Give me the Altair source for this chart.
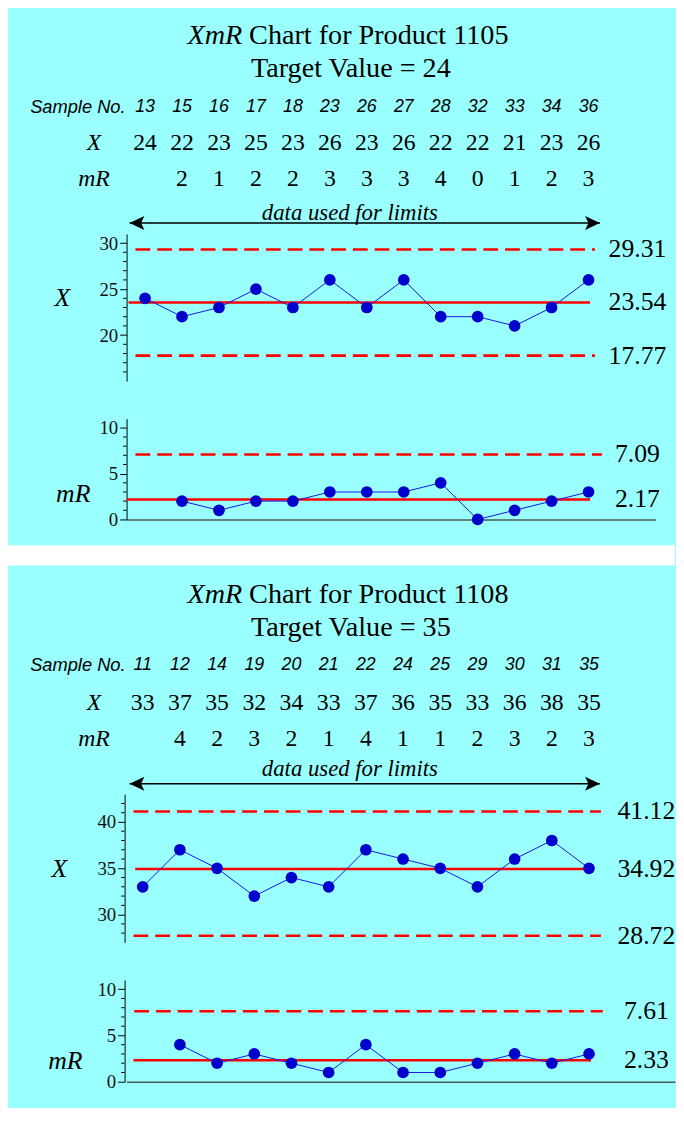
import altair as alt
import pandas as pd

# ---------------- data ----------------
p1_product = "1105"
p1_target = 24
p1_samples = [13, 15, 16, 17, 18, 23, 26, 27, 28, 32, 33, 34, 36]
p1_x = [24, 22, 23, 25, 23, 26, 23, 26, 22, 22, 21, 23, 26]
p1_mr = [None, 2, 1, 2, 2, 3, 3, 3, 4, 0, 1, 2, 3]
p1_x_limits = [29.31, 23.54, 17.77]          # UCL, CL, LCL (labels)
p1_x_drawn = [29.31, 23.54, 17.77]           # where the lines are drawn
p1_mr_limits = [7.09, 2.17]                  # URL, CL

p2_product = "1108"
p2_target = 35
p2_samples = [11, 12, 14, 19, 20, 21, 22, 24, 25, 29, 30, 31, 35]
p2_x = [33, 37, 35, 32, 34, 33, 37, 36, 35, 33, 36, 38, 35]
p2_mr = [None, 4, 2, 3, 2, 1, 4, 1, 1, 2, 3, 2, 3]
p2_x_limits = [41.12, 34.92, 28.72]
p2_x_drawn = [41.12, 34.92, 27.72]           # lower line sits lower in the source
p2_mr_limits = [7.61, 2.33]

# ---------------- style ----------------
BG = "#99ffff"
RED = "#ff0000"
BLUE = "#0000cc"
LINEBLUE = "#1515e6"
SERIF = "Liberation Serif"
SANS = "Liberation Sans"
IDX = list(range(13))
LEFT_HEAD = "M0,0 L2,-0.95 L1.55,0 L2,0.95 Z"
RIGHT_HEAD = "M0,0 L-2,-0.95 L-1.55,0 L-2,0.95 Z"

P1 = dict(product=p1_product, target=p1_target, samples=p1_samples, xs=p1_x, mrs=p1_mr,
          x_limits=p1_x_limits, x_drawn=p1_x_drawn, mr_limits=p1_mr_limits,
          width=535, xdomain=[-0.5, 13.805], header_h=184,
          xdom=[15, 31], x_h=149, x_major=[20, 25, 30], x_minor=list(range(16, 31)),
          mr_h=102, axis_offset=0,
          x_cl=(2, 469), x_dash=(9, 474), mr_cl=(0, 469), mr_dash=(9, 481),
          label_x=517, xt=(-65, 65), mt=(-54, 76),
          rows=dict(t1=21, t2=54, s=94, x=130.5, m=167, d=200.5, a=211))

P2 = dict(product=p2_product, target=p2_target, samples=p2_samples, xs=p2_x, mrs=p2_mr,
          x_limits=p2_x_limits, x_drawn=p2_x_drawn, mr_limits=p2_mr_limits,
          width=555, xdomain=[-0.433, 14.312], header_h=202,
          xdom=[27, 43], x_h=150, x_major=[30, 35, 40], x_minor=list(range(28, 43)),
          mr_h=103, axis_offset=2,
          x_cl=(8.7, 470), x_dash=(7, 480), mr_cl=(7, 470), mr_dash=(7.7, 482),
          label_x=526, xt=(-68, 76), mt=(-62, 82),
          rows=dict(t1=38, t2=71, s=109.5, x=147.5, m=184.5, d=215, a=229.5))

ONE = alt.Data(values=[{}])


def box(x1, x2, y1, y2, color):
    return alt.Chart(ONE).mark_rect(color=color).encode(
        x=alt.value(x1), x2=alt.value(x2), y=alt.value(y1), y2=alt.value(y2))


def stext(text, x, y, size, font=SERIF, style="normal", align="center"):
    return alt.Chart(ONE).mark_text(text=text, font=font, fontSize=size, fontStyle=style,
                                    align=align, baseline="middle", color="black").encode(
        x=alt.value(x), y=alt.value(y))


def xscale(P):
    return alt.Scale(domain=P["xdomain"], nice=False, zero=False)


def header(P, first):
    df = pd.DataFrame({"idx": IDX, "sample": P["samples"], "xv": P["xs"], "mr": P["mrs"]})
    W, H = P["width"], P["header_h"]
    r = P["rows"]
    xenc = alt.X("idx:Q", scale=xscale(P), axis=None)
    base = alt.Chart(df)
    layers = []
    if first:
        layers.append(box(-120, W, 0, H, BG))
    else:
        layers.append(box(-120, 555, -12, 8.7, "white"))
    layers += [
        stext("XmR", 117, r["t1"], 28.5, style="italic", align="right"),
        stext("Chart for Product " + P["product"], 124, r["t1"], 28.5, align="left"),
        stext("Target Value = %d" % P["target"], 227, r["t2"], 28.5),
        stext("Sample No.", -1, r["s"], 18.5, font=SANS, style="italic", align="right"),
        stext("X", -33, r["x"], 24, style="italic"),
        stext("mR", -33, r["m"], 24, style="italic"),
        base.mark_text(font=SANS, fontStyle="italic", fontSize=18, color="black",
                       baseline="middle").encode(x=xenc, y=alt.value(r["s"]), text="sample:N"),
        base.mark_text(font=SERIF, fontSize=24, color="black", baseline="middle").encode(
            x=xenc, y=alt.value(r["x"]), text="xv:N"),
        base.transform_filter("isValid(datum.mr)").mark_text(
            font=SERIF, fontSize=24, color="black", baseline="middle").encode(
            x=xenc, y=alt.value(r["m"]), text=alt.Text("mr:Q", format="d")),
        stext("data used for limits", 226, r["d"], 23, style="italic"),
        alt.Chart(ONE).mark_rule(color="black", strokeWidth=1.5).encode(
            x=alt.value(3), x2=alt.value(479), y=alt.value(r["a"])),
        alt.Chart(ONE).mark_point(shape=LEFT_HEAD, filled=True, color="black", opacity=1,
                                  size=225).encode(x=alt.value(3), y=alt.value(r["a"])),
        alt.Chart(ONE).mark_point(shape=RIGHT_HEAD, filled=True, color="black", opacity=1,
                                  size=225).encode(x=alt.value(479), y=alt.value(r["a"])),
    ]
    return alt.layer(*layers).properties(width=W, height=H)


def yaxis(P, major):
    return alt.Axis(values=major, tickSize=7, tickWidth=1, tickColor="black",
                    domainColor="black", domainWidth=1, labelFont=SERIF, labelFontSize=19,
                    labelColor="#111111", labelPadding=2, grid=False, title=None,
                    offset=P["axis_offset"])


def control(P, values, dom, height, major, minor, drawn, labels, cl, dash, title, title_pos,
            xaxis, last=False):
    df = pd.DataFrame({"idx": IDX, "v": values})
    ys = alt.Scale(domain=dom, nice=False, zero=False)
    ya = yaxis(P, major)
    y = alt.Y("v:Q", scale=ys, axis=ya)
    xenc = alt.X("idx:Q", scale=xscale(P), axis=xaxis)
    off = P["axis_offset"]
    valid = alt.Chart(df).transform_filter("isValid(datum.v)")
    layers = []
    if last:
        layers.append(box(0, 10, height + 4, height + 20, BG))
    minor_df = pd.DataFrame({"v": [m for m in minor if m not in major]})
    layers.append(alt.Chart(minor_df).mark_rule(color="black", strokeWidth=1).encode(
        x=alt.value(-3.5 - off), x2=alt.value(-off), y=y))
    lines = pd.DataFrame({"v": drawn, "kind": ["ucl", "cl", "lcl"][:len(drawn)]})
    layers.append(alt.Chart(lines).transform_filter("datum.kind == 'cl'").mark_rule(
        color=RED, strokeWidth=2.6).encode(x=alt.value(cl[0]), x2=alt.value(cl[1]), y=y))
    layers.append(alt.Chart(lines).transform_filter("datum.kind != 'cl'").mark_rule(
        color=RED, strokeWidth=2.6, strokeDash=[15, 7]).encode(
        x=alt.value(dash[0]), x2=alt.value(dash[1]), y=y))
    layers.append(valid.mark_line(color=LINEBLUE, strokeWidth=1).encode(x=xenc, y=y))
    layers.append(valid.mark_circle(color=BLUE, size=140, opacity=1).encode(x=xenc, y=y))
    lab = pd.DataFrame({"v": drawn, "lab": ["%.2f" % v for v in labels]})
    layers.append(alt.Chart(lab).mark_text(font=SERIF, fontSize=26, color="black",
                                           align="center", baseline="middle").encode(
        x=alt.value(P["label_x"]), y=y, text="lab:N"))
    layers.append(stext(title, title_pos[0], title_pos[1], 26, style="italic"))
    return alt.layer(*layers).properties(width=P["width"], height=height)


def xchart(P):
    return control(P, P["xs"], P["xdom"], P["x_h"], P["x_major"], P["x_minor"],
                   P["x_drawn"], P["x_limits"], P["x_cl"], P["x_dash"], "X", P["xt"], None)


def mrchart(P, last=False):
    xa = alt.Axis(domain=True, ticks=False, labels=False, title=None, grid=False,
                  domainColor="#4a5858", domainWidth=1.5)
    return control(P, P["mrs"], [0, 11], P["mr_h"], [0, 5, 10], list(range(1, 11)),
                   P["mr_limits"], P["mr_limits"], P["mr_cl"], P["mr_dash"], "mR", P["mt"],
                   xa, last=last)


chart = alt.vconcat(
    header(P1, True), xchart(P1), mrchart(P1),
    header(P2, False), xchart(P2), mrchart(P2, last=True),
    spacing=38, bounds="flush"
).properties(padding=0).configure(background=BG).configure_view(stroke=None)

chart.save("out.html", embed_options={"renderer": "svg", "actions": False})
